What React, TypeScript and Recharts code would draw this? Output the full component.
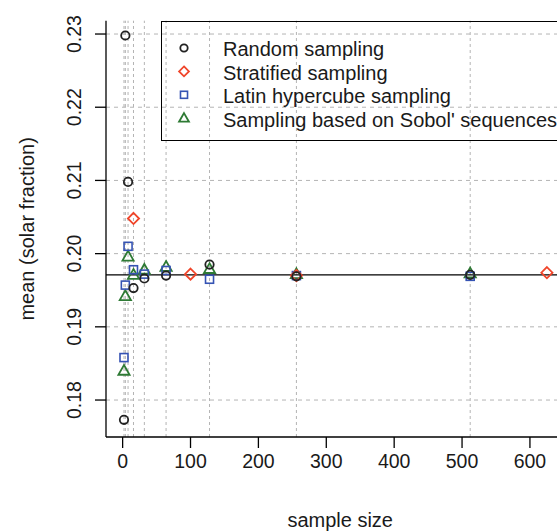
import React from "react";
import {
  ComposedChart,
  Scatter,
  XAxis,
  YAxis,
  ReferenceLine,
  Legend,
} from "recharts";

// ---- data ----
const seriesNames = [
  "Random sampling",
  "Stratified sampling",
  "Latin hypercube sampling",
  "Sampling based on Sobol' sequences",
];

const randomSizes = [2, 4, 8, 16, 32, 64, 128, 256, 512];
const randomMeans = [0.1773, 0.2298, 0.2098, 0.1953, 0.1966, 0.1970, 0.1985, 0.1969, 0.1971];

const stratifiedSizes = [16, 100, 256, 625];
const stratifiedMeans = [0.2048, 0.1972, 0.1970, 0.1974];

const latinSizes = [2, 4, 8, 16, 32, 64, 128, 256, 512];
const latinMeans = [0.1858, 0.1957, 0.2010, 0.1978, 0.1972, 0.1977, 0.1965, 0.1970, 0.1969];

const sobolSizes = [2, 4, 8, 16, 32, 64, 128, 256, 512];
const sobolMeans = [0.1840, 0.1942, 0.1996, 0.1971, 0.1978, 0.1982, 0.1979, 0.1972, 0.1973];

const overallMean = 0.1971;

const xTicks = [0, 100, 200, 300, 400, 500, 600];
const yTicks = [0.18, 0.19, 0.2, 0.21, 0.22, 0.23];
const gridX = [2, 4, 8, 16, 32, 64, 128, 256, 512];

const xDomain: [number, number] = [-24.5, 665.5];
const yDomain: [number, number] = [0.17495, 0.23182];

const toPoints = (xs: number[], ys: number[]) => xs.map((x, i) => ({ x, y: ys[i] }));

const randomData = toPoints(randomSizes, randomMeans);
const stratifiedData = toPoints(stratifiedSizes, stratifiedMeans);
const latinData = toPoints(latinSizes, latinMeans);
const sobolData = toPoints(sobolSizes, sobolMeans);

// ---- styles ----
const FONT = "'Liberation Sans', Arial, sans-serif";
const TEXT = "#1a1a1a";
const C_RANDOM = "#222222";
const C_STRAT = "#F0452A";
const C_LATIN = "#3553B3";
const C_SOBOL = "#2E7A34";
const GRID = "#b4b4b4";

const Circle = (cx: number, cy: number, s = 1) => (
  <circle cx={cx} cy={cy} r={4.2 * s} fill="none" stroke={C_RANDOM} strokeWidth={1.8} />
);
const Diamond = (cx: number, cy: number, s = 1) => {
  const d = 5.6 * s;
  return (
    <polygon
      points={`${cx},${cy - d} ${cx + d},${cy} ${cx},${cy + d} ${cx - d},${cy}`}
      fill="none"
      stroke={C_STRAT}
      strokeWidth={1.8}
    />
  );
};
const Square = (cx: number, cy: number, s = 1) => {
  const h = 4 * s;
  return (
    <rect x={cx - h} y={cy - h} width={2 * h} height={2 * h} fill="none" stroke={C_LATIN} strokeWidth={1.6} />
  );
};
const Triangle = (cx: number, cy: number, s = 1) => {
  const w = 5.6 * s;
  return (
    <polygon
      points={`${cx},${cy - 5.8 * s} ${cx + w},${cy + 4 * s} ${cx - w},${cy + 4 * s}`}
      fill="none"
      stroke={C_SOBOL}
      strokeWidth={1.8}
      strokeLinejoin="miter"
    />
  );
};

const shapeOf = (fn: (cx: number, cy: number, s?: number) => React.ReactElement) => (props: any) => {
  const { cx, cy } = props;
  if (cx == null || cy == null) return <g />;
  return fn(cx, cy);
};

const YTick = (props: any) => {
  const { x, y, payload } = props;
  return (
    <text
      x={x}
      y={y}
      transform={`rotate(-90 ${x} ${y})`}
      textAnchor="middle"
      fontSize={19.5}
      fill={TEXT}
      fontFamily={FONT}
    >
      {Number(payload.value).toFixed(2)}
    </text>
  );
};

const XTitle = (props: any) => {
  const vb = props.viewBox || {};
  const cx = vb.x + vb.width / 2;
  return (
    <text x={cx} y={527} textAnchor="middle" fontSize={20} fill={TEXT} fontFamily={FONT}>
      sample size
    </text>
  );
};

const YTitle = (props: any) => {
  const vb = props.viewBox || {};
  const cy = vb.y + vb.height / 2;
  const x = 34;
  return (
    <text
      x={x}
      y={cy}
      transform={`rotate(-90 ${x} ${cy})`}
      textAnchor="middle"
      fontSize={20}
      fill={TEXT}
      fontFamily={FONT}
    >
      mean (solar fraction)
    </text>
  );
};

const legendSymbols = [Circle, Diamond, Square, Triangle];

const LegendBox = () => (
  <div
    style={{
      width: 440,
      height: 120,
      border: "1px solid #000",
      boxSizing: "border-box",
      position: "relative",
      fontFamily: FONT,
      background: "transparent",
    }}
  >
    <svg width={440} height={120} style={{ position: "absolute", left: 0, top: 0 }}>
      {seriesNames.map((name, i) => {
        const cy = 26 + i * 23.4;
        return (
          <g key={name}>
            {legendSymbols[i](22, cy, 0.88)}
            <text x={61} y={cy + 8.3} fontSize={20} fill={TEXT} fontFamily={FONT}>
              {name}
            </text>
          </g>
        );
      })}
    </svg>
  </div>
);

export default function App() {
  return (
    <div
      style={{
        position: "fixed",
        left: 0,
        top: 0,
        width: 557,
        height: 532,
        overflow: "hidden",
        background: "#fff",
      }}
    >
      <ComposedChart
        width={600}
        height={532}
        margin={{ top: 20.7, right: 25.6, bottom: 35, left: 46 }}
        style={{ fontFamily: FONT }}
      >
        <XAxis
          xAxisId={0}
          type="number"
          dataKey="x"
          domain={xDomain}
          ticks={xTicks}
          allowDataOverflow
          interval={0}
          height={60}
          tickSize={11}
          tickMargin={6}
          axisLine={{ stroke: "#000", strokeWidth: 1.3 }}
          tickLine={{ stroke: "#000", strokeWidth: 1.3 }}
          tick={{ fontSize: 19.5, fill: TEXT, fontFamily: FONT }}
          label={<XTitle />}
        />
        <XAxis
          xAxisId="top"
          orientation="top"
          type="number"
          domain={xDomain}
          allowDataOverflow
          height={0}
          tick={false}
          tickLine={false}
          axisLine={{ stroke: "#000", strokeWidth: 1.3 }}
        />
        <YAxis
          yAxisId={0}
          type="number"
          dataKey="y"
          domain={yDomain}
          ticks={yTicks}
          allowDataOverflow
          interval={0}
          width={60}
          tickSize={11}
          tickMargin={14}
          axisLine={{ stroke: "#000", strokeWidth: 1.3 }}
          tickLine={{ stroke: "#000", strokeWidth: 1.3 }}
          tick={<YTick />}
          label={<YTitle />}
        />

        {yTicks.map((v) => (
          <ReferenceLine
            key={`gy${v}`}
            y={v}
            stroke={GRID}
            strokeWidth={1}
            strokeDasharray="4 4"
          />
        ))}
        {gridX.map((v) => (
          <ReferenceLine
            key={`gx${v}`}
            x={v}
            stroke={GRID}
            strokeWidth={1}
            strokeDasharray="3 3"
          />
        ))}
        <ReferenceLine y={overallMean} stroke="#000" strokeWidth={1.4} />

        <Scatter name={seriesNames[3]} data={sobolData} isAnimationActive={false} shape={shapeOf(Triangle)} />
        <Scatter name={seriesNames[2]} data={latinData} isAnimationActive={false} shape={shapeOf(Square)} />
        <Scatter name={seriesNames[1]} data={stratifiedData} isAnimationActive={false} shape={shapeOf(Diamond)} />
        <Scatter name={seriesNames[0]} data={randomData} isAnimationActive={false} shape={shapeOf(Circle)} />

        <Legend
          layout="horizontal"
          verticalAlign="middle"
          align="center"
          content={() => <LegendBox />}
          wrapperStyle={{ position: "absolute", left: 161, top: 21, width: 440, height: 120 }}
        />
      </ComposedChart>
    </div>
  );
}
